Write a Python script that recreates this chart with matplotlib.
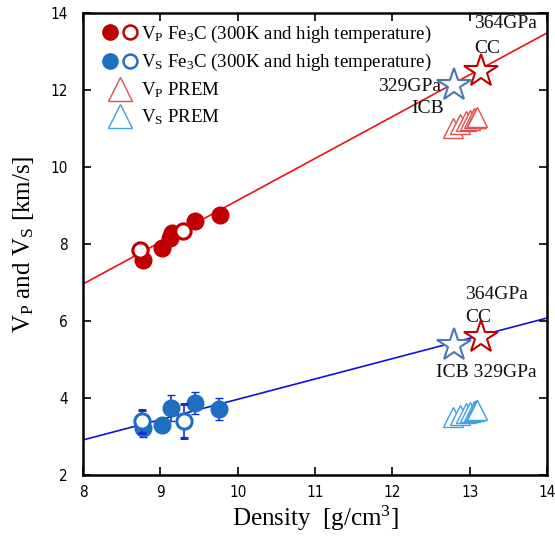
import matplotlib
matplotlib.use("Agg")
import matplotlib.pyplot as plt
from matplotlib import font_manager
from matplotlib.legend_handler import HandlerTuple
from matplotlib.lines import Line2D
import numpy as np

names = {f.name for f in font_manager.fontManager.ttflist}
has_cond = any(f.name == "DejaVu Sans" and f.stretch == "condensed" for f in font_manager.fontManager.ttflist)
tick_font = "Liberation Sans Narrow" if "Liberation Sans Narrow" in names else "DejaVu Sans"
serif = "Liberation Serif"
plt.rcParams['mathtext.fontset'] = 'custom'
plt.rcParams['mathtext.rm'] = serif
plt.rcParams['mathtext.it'] = serif + ':italic'

# --- data ---
vp_fill_rho = [8.78, 9.02, 9.12, 9.15, 9.45, 9.77]
vp_fill_v = [7.58, 7.90, 8.15, 8.28, 8.60, 8.75]
vp_fill_err = [0.12, 0.10, 0.15, 0.15, 0.10, 0.08]
vp_open_rho = [8.74, 9.29]
vp_open_v = [7.84, 8.34]
vp_open_err = [0.10, 0.10]

vs_fill_rho = [8.78, 9.02, 9.14, 9.45, 9.76]
vs_fill_v = [3.22, 3.30, 3.74, 3.87, 3.71]
vs_fill_err = [0.22, 0.12, 0.35, 0.28, 0.28]
vs_open_rho = [8.76, 9.30]
vs_open_v = [3.40, 3.40]
vs_open_err = [0.30, 0.45]

prem_rho = [12.79, 12.88, 12.95, 13.01, 13.05, 13.08, 13.10]
prem_vp = [11.02, 11.12, 11.19, 11.23, 11.26, 11.28, 11.30]
prem_vs = [3.50, 3.56, 3.61, 3.64, 3.67, 3.69, 3.70]

vp_fit = (1.087, 6.96)   # slope, value at rho=8
vs_fit = (0.528, 2.91)

star_icb_rho, star_icb_vp, star_icb_vs = 12.80, 12.13, 5.38
star_cc_rho, star_cc_vp, star_cc_vs = 13.15, 12.50, 5.58

red = "#c00000"
blue = "#1f6fc0"

fig = plt.figure(figsize=(5.55, 5.45), dpi=100)
ax = fig.add_axes([83/555, 70/545, 464/555, 462/545])
ax.set_xlim(8, 14)
ax.set_ylim(2, 14)

xx = np.array([8, 14])
ax.plot(xx, vp_fit[1] + vp_fit[0]*(xx-8), color="#ee1111", lw=1.2, zorder=1)
ax.plot(xx, vs_fit[1] + vs_fit[0]*(xx-8), color="#1010dd", lw=1.2, zorder=1)

ms = 12
ax.errorbar(vp_fill_rho, vp_fill_v, yerr=vp_fill_err, fmt='o', color=red, ms=ms,
            ecolor=red, elinewidth=1.2, capsize=3, zorder=3)
ax.errorbar(vp_open_rho, vp_open_v, yerr=vp_open_err, fmt='o', mfc='white', mec=red, mew=2.2,
            ms=ms-1, ecolor=red, elinewidth=1.2, capsize=3, zorder=4)
ax.errorbar(vs_fill_rho, vs_fill_v, yerr=vs_fill_err, fmt='o', color=blue, ms=ms,
            ecolor="#1030d0", elinewidth=1.2, capsize=3, zorder=3)
ax.errorbar(vs_open_rho, vs_open_v, yerr=vs_open_err, fmt='o', mfc='white', mec=blue, mew=2.2,
            ms=ms-1, ecolor="#1030d0", elinewidth=1.2, capsize=3, zorder=4)

for r, v in zip(prem_rho, prem_vp):
    ax.plot(r, v, marker='^', ms=15, mfc='white', mec="#e05050", mew=1.0, zorder=2)
for r, v in zip(prem_rho, prem_vs):
    ax.plot(r, v, marker='^', ms=15, mfc='white', mec="#40a0e0", mew=1.0, zorder=2)

star_ms = 25
ax.plot(star_icb_rho, star_icb_vp, marker='*', ms=star_ms, mfc='white', mec="#4a78b0", mew=1.5, zorder=5)
ax.plot(star_cc_rho, star_cc_vp, marker='*', ms=star_ms, mfc='white', mec=red, mew=1.5, zorder=6)
ax.plot(star_icb_rho, star_icb_vs, marker='*', ms=star_ms, mfc='white', mec="#4a78b0", mew=1.5, zorder=5)
ax.plot(star_cc_rho, star_cc_vs, marker='*', ms=star_ms, mfc='white', mec=red, mew=1.5, zorder=6)

tk = dict(fontsize=14, family=serif, color="#111111")
ax.text(13.06, 13.74, "364GPa", ha='left', va='center', **tk)
ax.text(13.06, 13.09, "CC", ha='left', va='center', **tk)
ax.text(12.63, 12.08, "329GPa", ha='right', va='center', **tk)
ax.text(12.67, 11.53, "ICB", ha='right', va='center', **tk)
ax.text(12.94, 6.68, "364GPa", ha='left', va='center', **tk)
ax.text(12.94, 6.10, "CC", ha='left', va='center', **tk)
ax.text(12.57, 4.65, "ICB 329GPa", ha='left', va='center', **tk)

h1 = (Line2D([], [], ls='none', marker='o', color=red, ms=11),
      Line2D([], [], ls='none', marker='o', mfc='white', mec=red, mew=1.8, ms=10))
h2 = (Line2D([], [], ls='none', marker='o', color=blue, ms=11),
      Line2D([], [], ls='none', marker='o', mfc='white', mec=blue, mew=1.8, ms=10))
h3 = Line2D([], [], ls='none', marker='^', ms=17, mfc='white', mec="#e05050", mew=1.0)
h4 = Line2D([], [], ls='none', marker='^', ms=17, mfc='white', mec="#40a0e0", mew=1.0)
leg = ax.legend([h1, h2, h3, h4],
                [r"V$_\mathrm{P}$ Fe$_3$C (300K and high temperature)",
                 r"V$_\mathrm{S}$ Fe$_3$C (300K and high temperature)",
                 r"V$_\mathrm{P}$ PREM", r"V$_\mathrm{S}$ PREM"],
                handler_map={tuple: HandlerTuple(ndivide=None, pad=0.1)},
                loc='upper left', bbox_to_anchor=(0.01, 1.005), frameon=False,
                prop={'family': serif, 'size': 13.6}, handlelength=2.0,
                handletextpad=0.15, labelspacing=0.38, borderaxespad=0.3)

ax.set_xticks(range(8, 15))
ax.set_yticks(range(2, 15, 2))
ax.tick_params(direction='in', length=6, width=1.2, top=True, right=True)
ax.tick_params(axis='x', pad=7)
ax.tick_params(axis='y', pad=11)
for lab in ax.get_xticklabels() + ax.get_yticklabels():
    lab.set_family(tick_font)
    lab.set_fontsize(11)
    if has_cond:
        lab.set_fontstretch('condensed')
for s in ax.spines.values():
    s.set_linewidth(1.8)

ax.set_xlabel(r"Density  [g/cm$^3$]", family=serif, fontsize=18, labelpad=3)
ax.set_ylabel(r"V$_\mathrm{P}$ and V$_\mathrm{S}$ [km/s]", family=serif, fontsize=18, labelpad=10)

fig.savefig("out.png", dpi=100)
